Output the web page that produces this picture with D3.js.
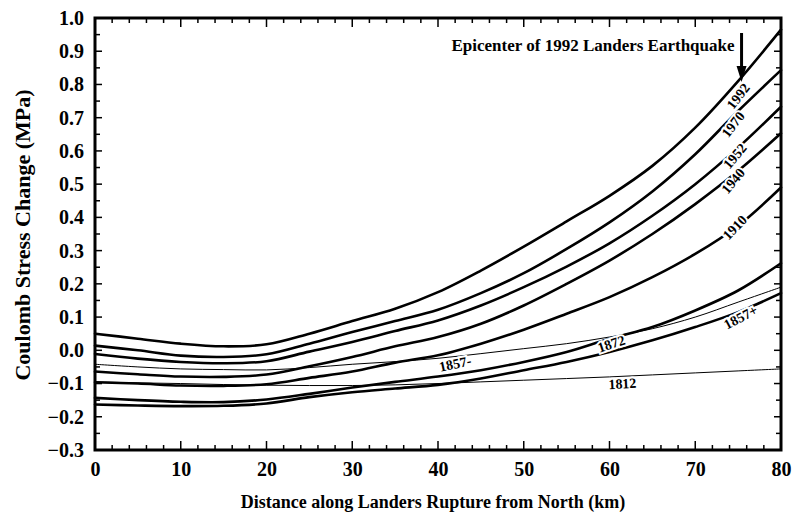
<!DOCTYPE html>
<html><head><meta charset="utf-8">
<script src="https://cdn.jsdelivr.net/npm/d3@7"></script>
<style>
body{margin:0;background:#fff;}
svg{display:block;}
text{font-family:"Liberation Serif","Times New Roman",serif;font-weight:bold;fill:#000;}
</style></head><body>
<svg id="c" width="793" height="518"></svg>
<script>
// ---- data ----
const distance = [0,5,10,15,20,25,30,35,40,45,50,55,60,65,70,75,80];
const s1992  = [0.050,0.035,0.020,0.012,0.018,0.050,0.088,0.125,0.175,0.240,0.312,0.388,0.465,0.555,0.670,0.810,0.965];
const s1970  = [0.014,0.000,-0.016,-0.020,-0.012,0.020,0.055,0.088,0.122,0.172,0.232,0.305,0.385,0.478,0.590,0.720,0.843];
const s1952  = [-0.011,-0.025,-0.035,-0.039,-0.033,-0.004,0.025,0.058,0.090,0.135,0.190,0.252,0.322,0.405,0.500,0.610,0.733];
const s1940  = [-0.064,-0.072,-0.079,-0.080,-0.073,-0.048,-0.020,0.012,0.040,0.080,0.135,0.200,0.270,0.350,0.440,0.540,0.653];
const s1910  = [-0.096,-0.100,-0.106,-0.107,-0.102,-0.083,-0.064,-0.037,-0.015,0.020,0.062,0.110,0.160,0.220,0.290,0.375,0.490];
const s1872  = [-0.143,-0.150,-0.155,-0.156,-0.148,-0.131,-0.112,-0.095,-0.079,-0.060,-0.035,-0.005,0.035,0.070,0.120,0.180,0.262];
const s1857p = [-0.163,-0.166,-0.168,-0.167,-0.160,-0.141,-0.126,-0.115,-0.104,-0.085,-0.060,-0.035,-0.005,0.030,0.070,0.115,0.172];
const s1857m = [-0.042,-0.050,-0.056,-0.058,-0.059,-0.052,-0.042,-0.034,-0.024,-0.010,0.005,0.020,0.040,0.065,0.100,0.145,0.190];
const s1812  = [-0.095,-0.098,-0.100,-0.103,-0.105,-0.106,-0.106,-0.104,-0.100,-0.095,-0.090,-0.085,-0.080,-0.074,-0.068,-0.062,-0.056];
const seriesNames = ["1992","1970","1952","1940","1910","1872","1857+","1857-","1812"];
const seriesValues = [s1992,s1970,s1952,s1940,s1910,s1872,s1857p,s1857m,s1812];
const thinSeries = ["1857-","1812"];
// curve label positions (distance km, stress MPa, angle deg)
const labelX = [75.0,74.4,74.6,74.4,74.6,60.2,75.3,42.0,61.5];
const labelY = [0.765,0.680,0.585,0.510,0.370,0.020,0.100,-0.040,-0.100];
const labelA = [-52,-52,-50,-50,-46,-18,-28,-12,-3];
const xTicks = [0,10,20,30,40,50,60,70,80];
const yTicks = [1.0,0.9,0.8,0.7,0.6,0.5,0.4,0.3,0.2,0.1,0.0,-0.1,-0.2,-0.3];
const epicenterKm = 75.4;
const epicenterText = "Epicenter of 1992 Landers Earthquake";

// ---- layout ----
const L=95, T=18, W=686, H=432;
const svg = d3.select("#c");
const x = d3.scaleLinear().domain([0,80]).range([L,L+W]);
const y = d3.scaleLinear().domain([-0.3,1.0]).range([T+H,T]);

const g = svg.append("g");

// ticks (inward, all four sides)
const xMinor = d3.range(0,81,2);
const yMinor = d3.range(-0.3,1.0001,0.05);
function isMajorX(v){return Math.abs(v%10)<1e-6;}
function isMajorY(v){return Math.abs(Math.round(v*10)-v*10)<1e-6;}
const tk = g.append("g").attr("stroke","#000").attr("stroke-width",1.5);
xMinor.forEach(v=>{
  const len = isMajorX(v)?9:5;
  tk.append("line").attr("x1",x(v)).attr("x2",x(v)).attr("y1",T+H).attr("y2",T+H-len);
  tk.append("line").attr("x1",x(v)).attr("x2",x(v)).attr("y1",T).attr("y2",T+len);
});
yMinor.forEach(v=>{
  const len = isMajorY(v)?7:5;
  tk.append("line").attr("y1",y(v)).attr("y2",y(v)).attr("x1",L).attr("x2",L+len);
  tk.append("line").attr("y1",y(v)).attr("y2",y(v)).attr("x1",L+W).attr("x2",L+W-len);
});

// axes labels via d3 axes (tick lines hidden)
const xAxis = d3.axisBottom(x).tickValues(xTicks).tickFormat(d3.format("d")).tickSize(0).tickPadding(9);
const yAxis = d3.axisLeft(y).tickValues(yTicks).tickFormat(d3.format(".1f")).tickSize(0).tickPadding(11);
const gx = g.append("g").attr("transform",`translate(0,${T+H})`).call(xAxis);
const gy = g.append("g").attr("transform",`translate(${L},0)`).call(yAxis);
[gx,gy].forEach(a=>{a.select(".domain").remove(); a.selectAll("text").attr("font-size",20).style("font-family","Liberation Serif").style("font-weight","bold");});
gx.selectAll("text").attr("dy","0.85em");

// curves
const line = d3.line().x((d,i)=>x(distance[i])).y(d=>y(d)).curve(d3.curveCatmullRom.alpha(0.5));
const cg = g.append("g").attr("fill","none").attr("stroke","#000").attr("stroke-linejoin","round").attr("stroke-linecap","round");
seriesNames.forEach((n,i)=>{
  const thin = thinSeries.includes(n);
  cg.append("path").attr("d",line(seriesValues[i])).attr("stroke-width",thin?1:2.6);
});

// curve labels with white halo
seriesNames.forEach((n,i)=>{
  g.append("text").attr("transform",`translate(${x(labelX[i])},${y(labelY[i])}) rotate(${labelA[i]})`)
    .attr("text-anchor","middle").attr("dy","0.35em").attr("font-size",14)
    .attr("stroke","#fff").attr("stroke-width",4).attr("paint-order","stroke")
    .text(n);
});

// frame
g.append("rect").attr("x",L).attr("y",T).attr("width",W).attr("height",H)
  .attr("fill","none").attr("stroke","#000").attr("stroke-width",3);

// epicenter annotation
const ax = x(epicenterKm);
g.append("line").attr("x1",ax).attr("x2",ax).attr("y1",33).attr("y2",70).attr("stroke","#000").attr("stroke-width",3);
g.append("path").attr("d",`M${ax-5},66 L${ax+5},66 L${ax},82 Z`).attr("fill","#000");
g.append("text").attr("x",ax-7).attr("y",51).attr("text-anchor","end").attr("font-size",17).text(epicenterText);

// axis titles
g.append("text").attr("x",L+W/2-5).attr("y",508).attr("text-anchor","middle").attr("font-size",18)
  .text("Distance along Landers Rupture from North (km)");
g.append("text").attr("transform",`translate(22,${T+H/2+1}) rotate(-90)`).attr("dy","0.35em").attr("text-anchor","middle").attr("font-size",22)
  .text("Coulomb Stress Change (MPa)");
</script></body></html>
